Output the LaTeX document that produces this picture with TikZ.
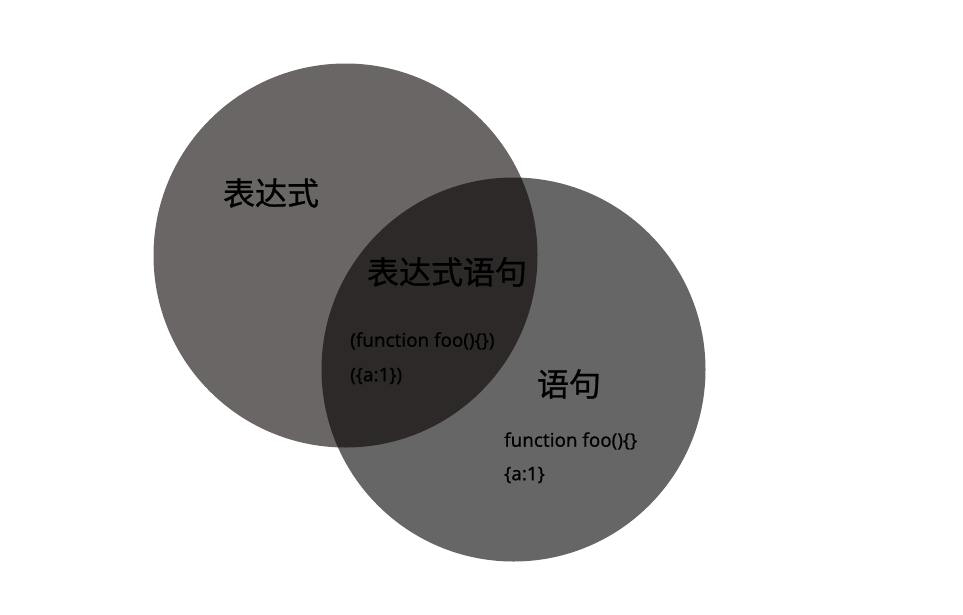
\documentclass[tikz,border=0pt]{standalone}
\usepackage{fontspec}
\setmainfont{Noto Sans}
\newfontfamily\cjk{Noto Sans CJK SC}[FakeBold=0.8]
\newfontfamily\codefont{Noto Sans}[FakeBold=0.5]
\definecolor{exprgray}{HTML}{6A6665}
\definecolor{stmtgray}{HTML}{666666}
\definecolor{bothgray}{HTML}{2D2929}
\tikzset{
  bigtxt/.style={inner sep=0pt, font=\cjk\fontsize{32}{36}\selectfont},
  codetxt/.style={inner sep=0pt, anchor=west, font=\codefont\fontsize{18.8}{22}\selectfont}
}

\begin{document}
\begin{tikzpicture}[x=1pt, y=-1pt]
  \useasboundingbox (0,0) rectangle (963,614);
  % circles
  \fill [exprgray] (345.5,255.5) circle (192pt);
  \fill [stmtgray] (513.5,369.5) circle (192pt);
  \begin{scope}
    \clip (345.5,255.5) circle (192pt);
    \fill [bothgray] (513.5,369.5) circle (192pt);
  \end{scope}
  % labels
  \node [bigtxt] (expr) at (271,193) {表达式};
  \node [bigtxt] (both) at (447,272) {表达式语句};
  \node [bigtxt] (stmt) at (569,384) {语句};
  \node [codetxt] (bothfn) at (350,341) {(function foo()\{\})};
  \node [codetxt] (bothobj) at (350,376) {(\{a:1\})};
  \node [codetxt] (stmtfn) at (504,441) {function foo()\{\}};
  \node [codetxt] (stmtobj) at (504,475) {\{a:1\}};
\end{tikzpicture}
\end{document}
